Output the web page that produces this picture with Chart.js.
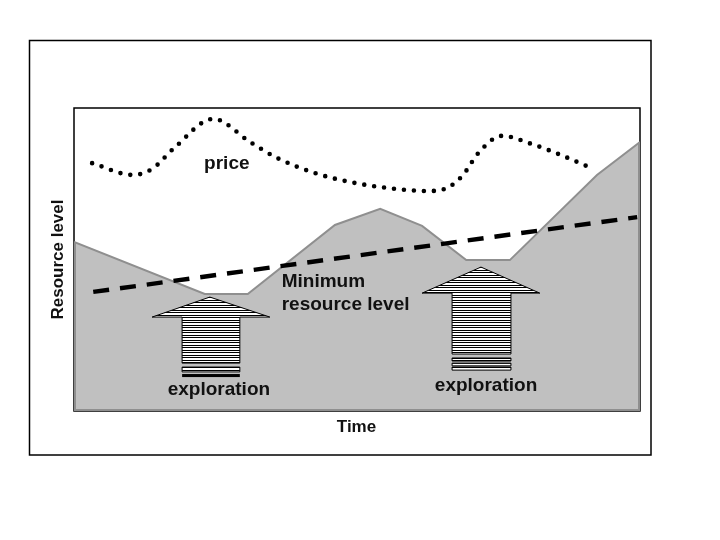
<!DOCTYPE html>
<html>
<head>
<meta charset="utf-8">
<script src="https://cdn.jsdelivr.net/npm/chart.js@4"></script>
<style>
  html, body { margin: 0; padding: 0; background: #fff; }
  canvas { display: block; }
</style>
</head>
<body>
<canvas id="c" width="720" height="540"></canvas>
<script>
// Resource stock over time (shaded area)
const areaTime = [0, 23.1, 30.7, 46.1, 54.1, 61.5, 69.3, 77.0, 92.4, 100];
const resourceLevel = [55.8, 38.6, 38.6, 61.4, 66.7, 61.1, 49.8, 49.8, 77.9, 88.8];

// Minimum resource level (rising straight trend)
const minTime = [3.4, 99.5];
const minLevel = [39.3, 64.0];

// Price path (dotted curve)
const priceTime = [3.2, 10.4, 13.8, 17.7, 24.6, 31.1, 35.9, 42.6, 49.8, 56.9, 62.4, 65.9, 68.6, 71.6, 75.6, 80.9, 86.0, 91.0];
const priceLevel = [81.8, 77.9, 79.9, 86.8, 96.4, 88.8, 83.5, 78.5, 75.2, 73.3, 72.6, 73.6, 77.6, 85.5, 90.8, 88.1, 84.5, 80.5];

// Text labels
const axisTitles = { x: 'Time', y: 'Resource level' };
const labelPrice = 'price';
const labelMinimum = ['Minimum', 'resource level'];
const labelExploration = 'exploration';

const toXY = (xs, ys) => xs.map((x, i) => ({ x: x, y: ys[i] }));

// Exploration arrows, placed in data units
const arrows = [
  { apexX: 24.0, apexY: 37.6, headBase: 31.0, headL: 13.8, headR: 34.6, shaftL: 19.1, shaftR: 29.3, shaftBottom: 15.8,
    bands: [[14.5, 12.9, 'hatch'], [12.2, 11.2, 'solid']] },
  { apexX: 71.9, apexY: 47.5, headBase: 38.9, headL: 61.5, headR: 82.3, shaftL: 66.8, shaftR: 77.2, shaftBottom: 18.8,
    bands: [[17.5, 16.5, 'hatch'], [15.8, 14.9, 'hatch'], [14.5, 13.5, 'hatch']] }
];

const FONT = '"Liberation Sans", Arial, sans-serif';

function hatchPath(ctx, area, pathFn) {
  ctx.save();
  ctx.beginPath();
  pathFn();
  ctx.closePath();
  ctx.fillStyle = '#fff';
  ctx.fill();
  ctx.clip();
  const b = area;
  ctx.fillStyle = '#000';
  for (let k = 0; b.top + k * 2.5 < b.bottom + 1; k++) {
    ctx.fillRect(b.left - 1, Math.round(b.top + k * 2.5), b.right - b.left + 2, 1);
  }
  ctx.restore();
  ctx.save();
  ctx.beginPath();
  pathFn();
  ctx.closePath();
  ctx.strokeStyle = '#000';
  ctx.lineWidth = 1;
  ctx.stroke();
  ctx.restore();
}

const decor = {
  id: 'decor',
  beforeDraw(chart) {
    const ctx = chart.ctx;
    const a = chart.chartArea;
    ctx.save();
    ctx.fillStyle = '#fff';
    ctx.fillRect(0, 0, chart.width, chart.height);
    // outer frame
    ctx.strokeStyle = '#000';
    ctx.lineWidth = 1.5;
    ctx.strokeRect(29.5, 40.5, 621.5, 414.5);
    // plot frame
    ctx.lineWidth = 1.5;
    ctx.strokeRect(a.left, a.top, a.right - a.left, a.bottom - a.top);
    ctx.restore();
  },
  afterDatasetsDraw(chart) {
    const ctx = chart.ctx;
    const a = chart.chartArea;
    const xs = chart.scales.x, ys = chart.scales.y;
    const px = v => xs.getPixelForValue(v);
    const py = v => ys.getPixelForValue(v);

    // outline of the shaded area along the frame
    ctx.save();
    ctx.strokeStyle = '#8f8f8f';
    ctx.lineWidth = 2;
    ctx.beginPath();
    ctx.moveTo(a.left + 1, py(resourceLevel[0]));
    ctx.lineTo(a.left + 1, a.bottom - 1);
    ctx.lineTo(a.right - 1, a.bottom - 1);
    ctx.lineTo(a.right - 1, py(resourceLevel[resourceLevel.length - 1]));
    ctx.stroke();
    ctx.restore();

    // exploration arrows
    arrows.forEach(ar => {
      const ax = px(ar.apexX), ay = py(ar.apexY);
      const hb = py(ar.headBase), hl = px(ar.headL), hr = px(ar.headR);
      const sl = px(ar.shaftL), sr = px(ar.shaftR), sb = py(ar.shaftBottom);
      hatchPath(ctx, { left: hl, right: hr, top: ay, bottom: sb }, () => {
        ctx.moveTo(ax, ay);
        ctx.lineTo(hr, hb);
        ctx.lineTo(sr, hb);
        ctx.lineTo(sr, sb);
        ctx.lineTo(sl, sb);
        ctx.lineTo(sl, hb);
        ctx.lineTo(hl, hb);
      });
      ar.bands.forEach(bd => {
        const t = py(bd[0]), btm = py(bd[1]);
        if (bd[2] === 'solid') {
          ctx.save();
          ctx.fillStyle = '#000';
          ctx.fillRect(sl, t, sr - sl, btm - t);
          ctx.restore();
        } else {
          hatchPath(ctx, { left: sl, right: sr, top: t, bottom: btm }, () => {
            ctx.rect(sl, t, sr - sl, btm - t);
          });
        }
      });
    });

    // labels
    ctx.save();
    ctx.fillStyle = '#111';
    ctx.font = 'bold 19px ' + FONT;
    ctx.textBaseline = 'middle';
    ctx.textAlign = 'center';
    ctx.fillText(labelPrice, px(27.0), py(81.5));
    ctx.fillText(labelExploration, px(25.6), py(6.9));
    ctx.fillText(labelExploration, px(72.8), py(8.3));
    ctx.textAlign = 'left';
    ctx.fillText(labelMinimum[0], px(36.7), py(42.6));
    ctx.fillText(labelMinimum[1], px(36.7), py(35.0));

    // axis titles
    ctx.font = 'bold 17px ' + FONT;
    ctx.textAlign = 'center';
    ctx.fillText(axisTitles.x, (a.left + a.right) / 2 - 0.5, a.bottom + 16);
    ctx.translate(a.left - 16, (a.top + a.bottom) / 2);
    ctx.rotate(-Math.PI / 2);
    ctx.fillText(axisTitles.y, 0, 0);
    ctx.restore();
  }
};

new Chart(document.getElementById('c'), {
  type: 'line',
  data: {
    datasets: [
      {
        label: 'price',
        data: toXY(priceTime, priceLevel),
        borderColor: '#000',
        borderWidth: 4.6,
        borderDash: [0, 10],
        borderCapStyle: 'round',
        pointRadius: 0,
        tension: 0.4,
        cubicInterpolationMode: 'monotone',
        fill: false
      },
      {
        label: 'Minimum resource level',
        data: toXY(minTime, minLevel),
        borderColor: '#000',
        borderWidth: 4.4,
        borderDash: [16, 11],
        pointRadius: 0,
        fill: false
      },
      {
        label: 'Resource level',
        data: toXY(areaTime, resourceLevel),
        borderColor: '#8f8f8f',
        borderWidth: 2,
        backgroundColor: '#c0c0c0',
        pointRadius: 0,
        tension: 0,
        fill: 'origin'
      }
    ]
  },
  options: {
    responsive: false,
    animation: false,
    events: [],
    layout: { padding: { left: 74, top: 108, right: 80, bottom: 129 } },
    plugins: { legend: { display: false }, tooltip: { enabled: false } },
    scales: {
      x: { type: 'linear', min: 0, max: 100, display: false },
      y: { type: 'linear', min: 0, max: 100, display: false }
    }
  },
  plugins: [decor]
});
</script>
</body>
</html>
